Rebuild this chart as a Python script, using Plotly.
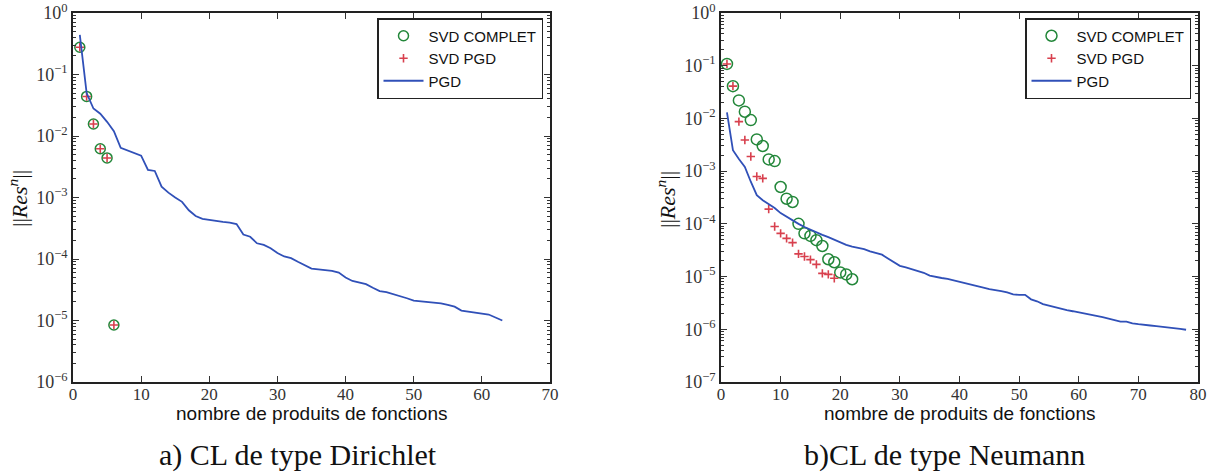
import plotly.graph_objects as go

# ---------------- data : panel a) Dirichlet ----------------
svd_complet_a_n = [1, 2, 3, 4, 5, 6]
svd_complet_a = [0.277, 0.044, 0.0157, 0.0062, 0.0044, 8.45e-6]
svd_pgd_a_n = [1, 2, 3, 4, 5, 6]
svd_pgd_a = [0.277, 0.044, 0.0157, 0.0062, 0.0044, 8.45e-6]
pgd_a_n = list(range(1, 64))
pgd_a = [0.44, 0.05, 0.028, 0.023, 0.017, 0.012, 0.0064, 0.0058, 0.0053, 0.0048,
         0.0028, 0.0027, 0.0015, 0.0012, 0.001, 0.00085, 0.00062, 0.0005, 0.00045, 0.00043,
         0.00042, 0.0004, 0.00039, 0.00037, 0.00025, 0.00023, 0.00018, 0.00017, 0.00015, 0.000125,
         0.00011, 0.000103, 0.00009, 0.00008, 0.00007, 0.000068, 0.000066, 0.000064, 0.00006, 0.00005,
         0.000044, 0.000041, 0.000039, 0.000034, 0.00003, 0.000029, 0.000027, 0.000025, 0.000023, 0.000021,
         0.0000205, 0.00002, 0.0000195, 0.000019, 0.000018, 0.0000168, 0.0000145, 0.000014, 0.0000135, 0.000013,
         0.0000125, 0.0000112, 0.00001]

# ---------------- data : panel b) Neumann ----------------
svd_complet_b_n = list(range(1, 23))
svd_complet_b = [0.108, 0.041, 0.022, 0.0134, 0.0093, 0.004, 0.003, 0.00167, 0.00155, 0.0005,
                 0.0003, 0.00026, 0.0001, 0.000066, 0.000059, 0.000049, 0.000038, 0.0000213, 0.0000187, 0.000012,
                 0.000011, 0.0000089]
svd_pgd_b_n = list(range(1, 20))
svd_pgd_b = [0.108, 0.041, 0.0087, 0.0039, 0.0019, 0.00079, 0.00073, 0.00019, 0.000089, 0.000066,
             0.000053, 0.000044, 0.000027, 0.000024, 0.000021, 0.000017, 0.0000115, 0.000011, 0.0000093]
pgd_b_n = list(range(1, 79))
pgd_b = [0.013, 0.0025, 0.0017, 0.0012, 0.00063, 0.00035, 0.00028, 0.00024, 0.0002, 0.00016,
         0.000136, 0.00012, 0.0001, 0.000087, 0.000077, 0.00007, 0.000062, 0.000056, 0.00005, 0.000045,
         0.00004, 0.000037, 0.000035, 0.000033, 0.00003, 0.000028, 0.000026, 0.000022, 0.000019, 0.000016,
         0.000015, 0.000014, 0.0000128, 0.0000118, 0.0000104, 0.0000098, 0.0000094, 0.000009, 0.0000085, 0.000008,
         0.0000075, 0.0000071, 0.0000067, 0.0000062, 0.0000058, 0.0000056, 0.0000053, 0.000005, 0.0000046, 0.0000045,
         0.0000045, 0.0000037, 0.0000034, 0.000003, 0.0000028, 0.0000027, 0.0000025, 0.0000023, 0.0000022, 0.0000021,
         0.000002, 0.0000019, 0.0000018, 0.0000017, 0.0000016, 0.0000015, 0.0000014, 0.0000014, 0.0000013, 0.00000125,
         0.0000012, 0.00000118, 0.00000115, 0.00000112, 0.0000011, 0.00000108, 0.00000102, 0.00000098]

names = ["SVD COMPLET", "SVD PGD", "PGD"]
x_title = "nombre de produits de fonctions"
captions = ["a) CL de type Dirichlet", "b)CL de type Neumann"]
y_title = "||<i>Res<sup>n</sup></i>||"

GREEN = "#23873a"
RED = "#d8404e"
BLUE = "#3050b8"
SERIF = "Liberation Serif, DejaVu Serif, serif"
SANS = "Liberation Sans, Arial, sans-serif"

fig = go.Figure()


def add_panel(xa, ya, leg, c_n, c_v, p_n, p_v, l_n, l_v, csize):
    fig.add_trace(go.Scatter(x=c_n, y=c_v, mode="markers", name=names[0],
                             marker=dict(symbol="circle-open", size=csize, color=GREEN, line=dict(width=1.5, color=GREEN)),
                             xaxis=xa, yaxis=ya, legend=leg))
    fig.add_trace(go.Scatter(x=p_n, y=p_v, mode="markers", name=names[1],
                             marker=dict(symbol="cross-thin", size=6, color=RED, line=dict(width=1.6, color=RED)),
                             xaxis=xa, yaxis=ya, legend=leg))
    fig.add_trace(go.Scatter(x=l_n, y=l_v, mode="lines", name=names[2],
                             line=dict(color=BLUE, width=1.8),
                             xaxis=xa, yaxis=ya, legend=leg))


add_panel("x", "y", "legend", svd_complet_a_n, svd_complet_a, svd_pgd_a_n, svd_pgd_a, pgd_a_n, pgd_a, 10)
add_panel("x2", "y2", "legend2", svd_complet_b_n, svd_complet_b, svd_pgd_b_n, svd_pgd_b, pgd_b_n, pgd_b, 11)

W, H = 1210, 475


def px_x(p):
    return p / W


def px_y(p):
    return 1 - p / H


def sup(e):
    return "10<sup>" + ("0" if e == 0 else "\u2212" + str(-e)) + "</sup>"


def yaxis_cfg(lo, hi, dom):
    majors = [10.0 ** e for e in range(lo, hi + 1)]
    minors = [m * 10.0 ** e for e in range(lo, hi) for m in range(2, 10)]
    return dict(type="log", range=[lo, hi], domain=dom, automargin=False,
                tickvals=majors, ticktext=[sup(e) for e in range(lo, hi + 1)],
                ticks="inside", ticklen=6, tickwidth=1, tickcolor="#333",
                minor=dict(tickvals=minors, ticks="inside", ticklen=3, tickwidth=1, tickcolor="#333"),
                showline=True, linecolor="#222", linewidth=1.5, mirror="allticks",
                showgrid=False, zeroline=False,
                tickfont=dict(family=SERIF, size=18, color="#333"))


def xaxis_cfg(hi, dom, anchor):
    return dict(range=[0, hi], domain=dom, anchor=anchor, dtick=10, tick0=0, automargin=False,
                ticks="inside", ticklen=6, tickwidth=1, tickcolor="#333",
                showline=True, linecolor="#222", linewidth=1.5, mirror="allticks",
                showgrid=False, zeroline=False, ticklabelstandoff=-4,
                tickfont=dict(family=SERIF, size=17, color="#333"))


ydom = [px_y(382), px_y(13)]
leg_common = dict(xanchor="right", yanchor="top", bgcolor="white", bordercolor="#222", borderwidth=1.5,
                  font=dict(family=SANS, size=15, color="#111"), tracegroupgap=0, itemwidth=40)
fig.update_layout(
    width=W, height=H,
    margin=dict(l=0, r=0, t=0, b=0, autoexpand=False),
    paper_bgcolor="white", plot_bgcolor="white",
    showlegend=True,
    xaxis=xaxis_cfg(70, [px_x(73), px_x(550)], "y"),
    yaxis=yaxis_cfg(-6, 0, ydom) | dict(anchor="x"),
    xaxis2=xaxis_cfg(80, [px_x(721), px_x(1198)], "y2"),
    yaxis2=yaxis_cfg(-7, 0, ydom) | dict(anchor="x2"),
    legend=dict(x=px_x(543), y=px_y(18), **leg_common),
    legend2=dict(x=px_x(1191), y=px_y(18), **leg_common),
)

annos = []
for cx in [311, 959]:
    annos.append(dict(x=px_x(cx), y=px_y(413), xref="paper", yref="paper", text=x_title,
                      showarrow=False, font=dict(family=SANS, size=19, color="#111"),
                      xanchor="center", yanchor="middle"))
for cx, cap in zip([298, 945], captions):
    annos.append(dict(x=px_x(cx), y=px_y(455), xref="paper", yref="paper", text=cap,
                      showarrow=False, font=dict(family=SERIF, size=30, color="#111"),
                      xanchor="center", yanchor="middle"))
for cx, cy in [(18, 199), (666, 200)]:
    annos.append(dict(x=px_x(cx), y=px_y(cy), xref="paper", yref="paper", text=y_title,
                      showarrow=False, textangle=-90, font=dict(family=SERIF, size=22, color="#111"),
                      xanchor="center", yanchor="middle"))
fig.update_layout(annotations=annos)

fig.write_html("out.html", config={"displayModeBar": False},
               post_script="document.body.style.margin='0';document.body.style.overflow='hidden';")
